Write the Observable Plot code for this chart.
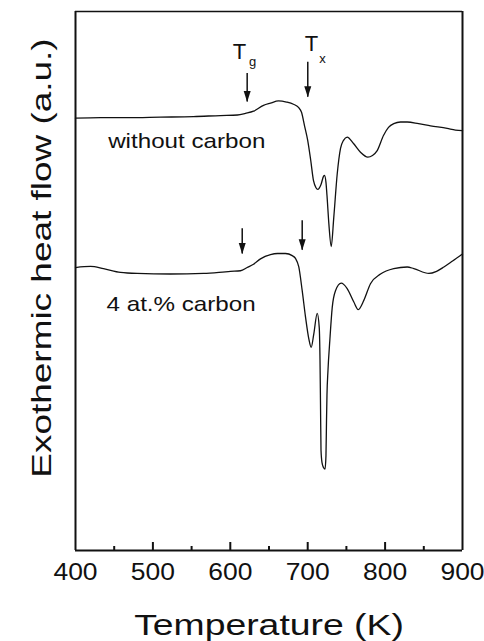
<!DOCTYPE html>
<html>
<head>
<meta charset="utf-8">
<script src="https://cdn.jsdelivr.net/npm/d3@7"></script>
<script src="https://cdn.jsdelivr.net/npm/@observablehq/plot@0.6"></script>
<style>
  html, body { margin: 0; padding: 0; background: #fff; }
  svg { display: block; }
</style>
</head>
<body>
<div id="chart"></div>
<script>
// ---- Data (temperature in K, heat flow in arbitrary units) ----
const upperT = [400,432.3,467.2,509.8,552.5,587.3,609.3,619.6,630.0,642.9,651.9,662.3,672.6,681.6,688.1,692.0,695.9,700.0,703.9,707.5,710.7,713.0,717.2,720.4,721.7,723.6,724.9,727.3,730.4,733.7,738.1,742.4,746.3,751.0,759.2,768.2,777.6,783.7,789.8,797.9,804.4,811.2,819.9,828.6,843.2,858.7,880.2,890.9,900];
const upperV = [80.2,80.3,80.3,80.4,80.5,80.7,80.8,81.1,81.5,82.6,83.0,83.4,83.2,82.8,82.2,81.3,78.8,76.1,72.4,68.6,67.3,67.0,67.9,69.4,69.6,68.3,65.9,60.7,56.4,61.8,69.8,74.6,76.1,76.7,75.5,73.9,73.0,73.3,74.2,77.0,78.5,79.2,79.5,79.5,79.2,78.8,78.3,78.0,77.9];

const lowerT = [400,419.4,436.2,458.1,479.7,522.7,565.4,600.3,613.2,621.8,630.0,639.0,651.9,661.0,671.3,680.0,684.2,688.5,692.9,697.2,701.4,704.5,707.9,712.3,714.9,715.9,716.5,717.2,718.5,720.4,722.4,723.6,724.3,724.9,726.2,728.6,731.7,735.9,743.3,751.0,759.6,765.3,772.5,781.1,794.1,811.2,828.6,837.1,856.6,866.5,876.0,887.2,900];
const lowerV = [52.5,52.7,52.3,51.6,51.4,51.3,51.4,51.8,51.9,52.5,53.1,54.1,54.9,55.1,55.1,54.7,54.2,52.6,48.2,43.3,39.3,37.7,40.2,44.0,41.4,35.3,27.8,18.6,16.3,15.4,15.1,17.6,24.1,28.8,33.4,39.0,45.1,48.2,49.6,48.6,46.1,44.7,46.4,49.5,51.3,52.3,52.6,52.3,51.4,51.8,52.6,53.7,55.0];

// arrows: temperature, shaft top, tip (a.u.)
const arrowT    = [621.8, 700.1, 615.4, 692.9];
const arrowTop  = [88.5, 90.6, 59.7, 61.2];
const arrowTip  = [83.2, 84.1, 55.0, 55.7];

// labels
const seriesLabels = ["without carbon", "4 at.% carbon"];
const seriesLabelT = [442.2, 440.1];
const seriesLabelV = [74.6, 44.5];

const majorTicks = [500, 600, 700, 800];
const minorTicks = [450, 550, 650, 750, 850];
const tickLabels = [400, 500, 600, 700, 800, 900];

const xTitle = "Temperature (K)";
const yTitle = "Exothermic heat flow (a.u.)";

// ---- Build tables ----
const upper = upperT.map((t, i) => ({t, v: upperV[i]}));
const lower = lowerT.map((t, i) => ({t, v: lowerV[i]}));
const arrows = arrowT.map((t, i) => ({t, top: arrowTop[i], tip: arrowTip[i]}));
const labels = seriesLabels.map((s, i) => ({s, t: seriesLabelT[i], v: seriesLabelV[i]}));

const INK = "#111";
const FONT = "Liberation Sans, Arial, Helvetica, sans-serif";

const headDown = {
  draw(ctx) {
    ctx.moveTo(0, 0);
    ctx.lineTo(-3.5, -11);
    ctx.lineTo(3.5, -11);
    ctx.closePath();
  }
};

const chart = Plot.plot({
  width: 484,
  height: 641,
  marginLeft: 75,
  marginRight: 22,
  marginTop: 11,
  marginBottom: 91,
  style: {fontFamily: FONT, background: "#fff", color: INK},
  x: {domain: [400, 900]},
  y: {domain: [0, 100], axis: null},
  marks: [
    // frame
    Plot.ruleY([100], {stroke: INK, strokeWidth: 1.4}),
    Plot.ruleY([0], {stroke: INK, strokeWidth: 2}),
    Plot.ruleX([400, 900], {stroke: INK, strokeWidth: 2}),
    // inward ticks
    Plot.ruleX(majorTicks, {x: d => d, insetTop: 531, stroke: INK, strokeWidth: 2}),
    Plot.ruleX(minorTicks, {x: d => d, insetTop: 535, stroke: INK, strokeWidth: 2}),
    // tick labels
    Plot.axisX({ticks: tickLabels, tickSize: 0, tickPadding: 13, fontSize: 23, label: null, tickFormat: d => String(d), fill: INK}),
    // curves
    Plot.line(upper, {x: "t", y: "v", stroke: INK, strokeWidth: 1.3, curve: "monotone-x"}),
    Plot.line(lower, {x: "t", y: "v", stroke: INK, strokeWidth: 1.3, curve: "monotone-x"}),
    // arrows
    Plot.ruleX(arrows, {x: "t", y1: "top", y2: "tip", stroke: INK, strokeWidth: 1.5}),
    Plot.dot(arrows, {x: "t", y: "tip", symbol: headDown, fill: INK, stroke: null, r: 4}),
    // T_g, T_x
    Plot.text(["T"], {x: 611.9, y: 91.1, text: d => d, fontSize: 22, lineAnchor: "bottom", fill: INK}),
    Plot.text(["g"], {x: 628.7, y: 89.8, text: d => d, fontSize: 13, lineAnchor: "bottom", fill: INK}),
    Plot.text(["T"], {x: 704.9, y: 92.6, text: d => d, fontSize: 22, lineAnchor: "bottom", fill: INK}),
    Plot.text(["x"], {x: 719.1, y: 90.5, text: d => d, fontSize: 13, lineAnchor: "bottom", fill: INK}),
    // series labels
    Plot.text(labels, {x: "t", y: "v", text: "s", fontSize: 20.5, textAnchor: "start", lineAnchor: "bottom", fill: INK}),
    // axis titles
    Plot.text([xTitle], {frameAnchor: "bottom", dy: 84, fontSize: 30, textAnchor: "middle", lineAnchor: "bottom", fill: INK}),
    Plot.text([yTitle], {frameAnchor: "left", dx: -25, dy: -23, rotate: -90, fontSize: 28, textAnchor: "middle", lineAnchor: "bottom", fill: INK})
  ]
});

// horizontally stretch text glyphs (the reference lettering is wide)
function stretchFor(s) {
  if (/^\d{3}$/.test(s)) return 1.15;
  if (seriesLabels.includes(s)) return 1.18;
  if (s === xTitle) return 1.245;
  if (s === yTitle) return 1.32;
  return 1;
}
chart.querySelectorAll("text").forEach(el => {
  const s = stretchFor(el.textContent.trim());
  if (s === 1) return;
  const t = el.getAttribute("transform") || "";
  const xa = el.getAttribute("x"), ya = el.getAttribute("y");
  let x = 0, y = 0;
  if (xa != null && !/em/.test(xa)) { x = parseFloat(xa) || 0; el.setAttribute("x", 0); }
  if (ya != null && !/em/.test(ya)) { y = parseFloat(ya) || 0; el.setAttribute("y", 0); }
  el.setAttribute("transform", `${t} translate(${x},${y}) scale(${s},1)`.trim());
});

document.getElementById("chart").appendChild(chart);
</script>
</body>
</html>
